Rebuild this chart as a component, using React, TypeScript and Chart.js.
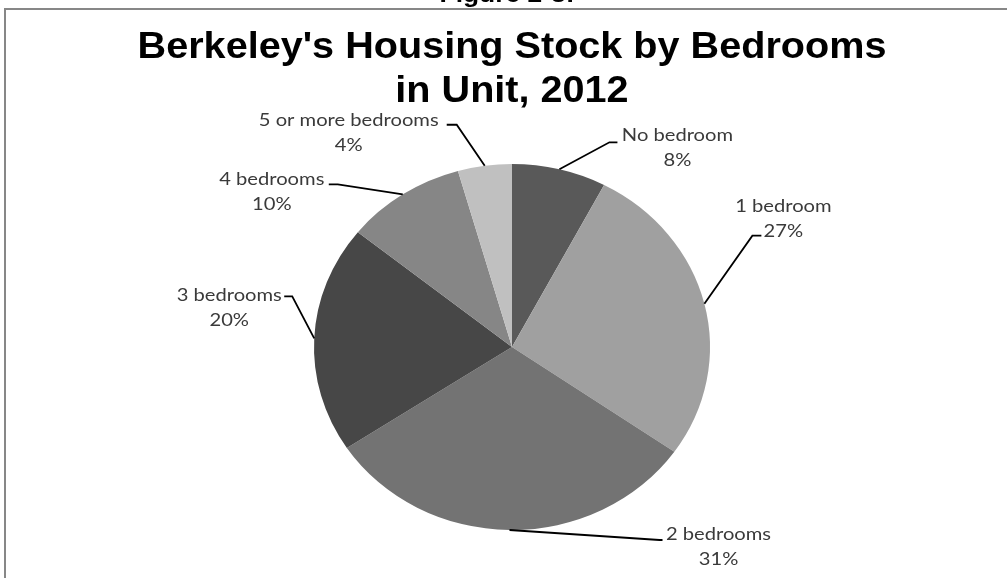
import React, { useEffect, useRef } from "react";
import { Chart, registerables } from "chart.js";

Chart.register(...registerables);

// ---- data ----
const categories = [
  "No bedroom",
  "1 bedroom",
  "2 bedrooms",
  "3 bedrooms",
  "4 bedrooms",
  "5 or more bedrooms",
];
const shares = [7.7, 27.0, 31.0, 20.1, 9.8, 4.4];
const percentLabels = shares.map((v) => `${Math.round(v)}%`);
const titleLines = ["Berkeley's Housing Stock by Bedrooms", "in Unit, 2012"];
const figureCaption = "Figure 2-8:";

// ---- styles / layout ----
const sliceColors = ["#595959", "#a0a0a0", "#737373", "#474747", "#868686", "#c0c0c0"];
const ELLIPSE_Y = 183 / 198;
const LABEL_FONT = "18px Lato";
const LABEL_STRETCH = 1.12;
const LABEL_LINE = 25;
const TITLE_FONT = "bold 36px 'Liberation Sans', Arial, sans-serif";
const TITLE_STRETCH = 1.1;
// elbow offset from slice edge, horizontal tail length, text centre offset from tail end
const LEADERS: { elbow: [number, number]; tail: number; text: [number, number] }[] = [
  { elbow: [50, -27], tail: 8, text: [60, -7] },
  { elbow: [48, -68], tail: 9, text: [22, -30] },
  { elbow: [150, 10], tail: 3, text: [56, -6] },
  { elbow: [-22, -42], tail: -8, text: [-55, -1] },
  { elbow: [-65, -10], tail: -9, text: [-57, -5] },
  { elbow: [-28, -41], tail: -10, text: [-98, -5] },
];

function drawText(ctx: CanvasRenderingContext2D, text: string, x: number, y: number, sx: number) {
  ctx.save();
  ctx.translate(x, y);
  ctx.scale(sx, 1);
  ctx.textAlign = "center";
  ctx.textBaseline = "middle";
  ctx.fillText(text, 0, 0);
  ctx.restore();
}

const ellipsePlugin = {
  id: "ellipsePie",
  beforeDatasetsDraw(chart: any) {
    const arc = chart.getDatasetMeta(0).data[0];
    const ctx = chart.ctx;
    ctx.save();
    ctx.translate(arc.x, arc.y);
    ctx.scale(1, ELLIPSE_Y);
    ctx.translate(-arc.x, -arc.y);
  },
  afterDatasetsDraw(chart: any) {
    chart.ctx.restore();
  },
};

const decorPlugin = {
  id: "decor",
  afterDraw(chart: any) {
    const ctx: CanvasRenderingContext2D = chart.ctx;
    const W = chart.width;
    const H = chart.height;
    ctx.save();
    // frame
    ctx.strokeStyle = "#878787";
    ctx.lineWidth = 2;
    ctx.beginPath();
    ctx.moveTo(W + 5, 9);
    ctx.lineTo(5, 9);
    ctx.lineTo(5, H + 5);
    ctx.stroke();

    // cut-off caption above frame
    ctx.fillStyle = "#000";
    ctx.font = "bold 24px 'Liberation Sans', Arial, sans-serif";
    ctx.save();
    ctx.translate(507, 2);
    ctx.scale(1.1, 1);
    ctx.textAlign = "center";
    ctx.textBaseline = "alphabetic";
    ctx.fillText(figureCaption, 0, 0);
    ctx.restore();

    // title
    ctx.font = TITLE_FONT;
    drawText(ctx, titleLines[0], 512, 48, TITLE_STRETCH);
    drawText(ctx, titleLines[1], 512, 92, TITLE_STRETCH);

    // leaders + labels
    const meta = chart.getDatasetMeta(0);
    ctx.font = LABEL_FONT;
    meta.data.forEach((arc: any, i: number) => {
      const mid = (arc.startAngle + arc.endAngle) / 2;
      const R = arc.outerRadius;
      const ex = arc.x + R * Math.cos(mid);
      const ey = arc.y + R * ELLIPSE_Y * Math.sin(mid);
      const L = LEADERS[i];
      const bx = ex + L.elbow[0];
      const by = ey + L.elbow[1];
      const tx = bx + L.tail;
      ctx.strokeStyle = "#000";
      ctx.lineWidth = 1.8;
      ctx.beginPath();
      ctx.moveTo(ex, ey);
      ctx.lineTo(bx, by);
      ctx.lineTo(tx, by);
      ctx.stroke();
      ctx.fillStyle = "#3a3a3a";
      const cx = tx + L.text[0];
      const cy = by + L.text[1];
      drawText(ctx, categories[i], cx, cy, LABEL_STRETCH);
      drawText(ctx, percentLabels[i], cx, cy + LABEL_LINE, LABEL_STRETCH);
    });
    ctx.restore();
  },
};

export default function App() {
  const ref = useRef<HTMLCanvasElement | null>(null);
  useEffect(() => {
    if (!ref.current) return;
    const chart = new Chart(ref.current, {
      type: "pie",
      data: {
        labels: categories,
        datasets: [
          {
            data: shares,
            backgroundColor: sliceColors,
            borderWidth: 0,
          },
        ],
      },
      options: {
        responsive: false,
        animation: false,
        layout: { padding: { top: 149, bottom: 33, left: 100, right: 83 } },
        plugins: {
          legend: { display: false },
          tooltip: { enabled: false },
          title: { display: false },
        },
      },
      plugins: [ellipsePlugin, decorPlugin],
    });
    return () => chart.destroy();
  }, []);
  return (
    <div style={{ position: "absolute", left: 0, top: 0, width: 1007, height: 578, background: "#fff" }}>
      <canvas ref={ref} width={1007} height={578} style={{ display: "block" }} />
    </div>
  );
}
